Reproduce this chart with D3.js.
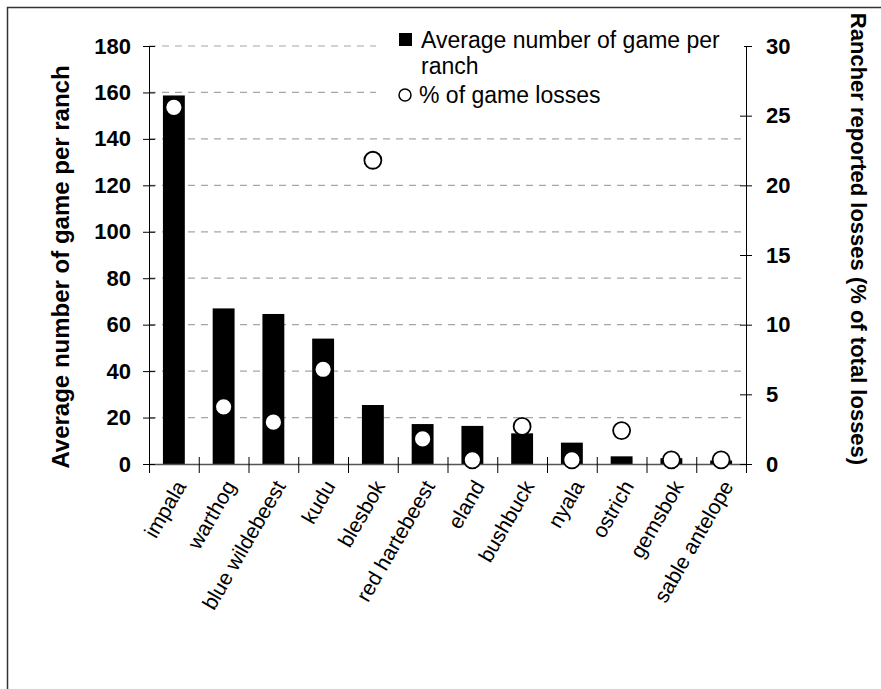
<!DOCTYPE html>
<html>
<head>
<meta charset="utf-8">
<script src="https://cdn.jsdelivr.net/npm/d3@7"></script>
<style>
  body { margin: 0; background: #fff; }
  svg { display: block; font-family: "Liberation Sans", Arial, sans-serif; }
</style>
</head>
<body>
<div id="chart"></div>
<script>
// data
var species = ["impala", "warthog", "blue wildebeest", "kudu", "blesbok", "red hartebeest",
  "eland", "bushbuck", "nyala", "ostrich", "gemsbok", "sable antelope"];
var gamePerRanch = [158.7, 67, 64.6, 54, 25.4, 17.2, 16.4, 13.2, 9.2, 3.3, 2.5, 1.5];
var lossPercent = [25.6, 4.1, 3.0, 6.8, 21.8, 1.8, 0.3, 2.7, 0.3, 2.4, 0.3, 0.3];
var leftTicks = [0, 20, 40, 60, 80, 100, 120, 140, 160, 180];
var rightTicks = [0, 5, 10, 15, 20, 25, 30];
var legendLabels = ["Average number of game per", "ranch", "% of game losses"];

var width = 881, height = 689;
var margin = { top: 46, bottom: 225, left: 149, right: 135 };

var svg = d3.select("#chart").append("svg")
  .attr("width", width)
  .attr("height", height);

// frame (only top and left edges are visible)
svg.append("path")
  .attr("d", "M7.5," + height + "V7.5H" + width)
  .attr("fill", "none")
  .attr("stroke", "#333")
  .attr("stroke-width", 1.5);

var plotW = width - margin.left - margin.right;
var plotH = height - margin.top - margin.bottom;

var g = svg.append("g").attr("transform", `translate(${margin.left},${margin.top})`);

// Scales
var x = d3.scaleBand().domain(species).range([0, plotW]).paddingInner(0.56).paddingOuter(0.28);
var xEdge = d3.scaleLinear().domain([0, species.length]).range([0, plotW]);
var yLeft = d3.scaleLinear().domain([0, 180]).range([plotH, 0]);
var yRight = d3.scaleLinear().domain([0, 30]).range([plotH, 0]);

// dashed grid
g.append("g")
  .selectAll("line")
  .data(leftTicks.filter(function (d) { return d > 0; }))
  .enter().append("line")
  .attr("x1", 0).attr("x2", plotW)
  .attr("y1", function (d) { return yLeft(d); })
  .attr("y2", function (d) { return yLeft(d); })
  .attr("stroke", "#a6a6a6")
  .attr("stroke-width", 1.2)
  .attr("stroke-dasharray", "7,6");

// Bars
g.append("g")
  .selectAll("rect")
  .data(species)
  .enter().append("rect")
  .attr("x", function (d) { return x(d); })
  .attr("y", function (d, i) { return yLeft(gamePerRanch[i]); })
  .attr("width", x.bandwidth())
  .attr("height", function (d, i) { return plotH - yLeft(gamePerRanch[i]); })
  .attr("fill", "#000");

// x axis with cross ticks at category edges
var xAxisG = g.append("g")
  .attr("transform", `translate(0,${plotH})`)
  .call(d3.axisBottom(xEdge).tickValues(d3.range(0, species.length + 1)).tickFormat("").tickSizeOuter(0));
xAxisG.select(".domain").attr("stroke", "#555").attr("stroke-width", 1.5);
xAxisG.selectAll(".tick line").attr("y1", -7).attr("y2", 9).attr("stroke", "#000");

// category labels
var labelG = g.append("g")
  .attr("transform", `translate(0,${plotH})`)
  .call(d3.axisBottom(x).tickSize(0));
labelG.attr("font-size", null).attr("font-family", null);
labelG.select(".domain").remove();
labelG.selectAll("text")
  .style("font-size", "21px")
  .style("font-family", "'Liberation Sans', Arial, sans-serif")
  .attr("fill", "#000")
  .attr("text-anchor", "end")
  .attr("dy", null)
  .attr("y", 0)
  .attr("transform", "translate(13,22) rotate(-60)");

// left axis
var leftG = g.append("g").call(d3.axisLeft(yLeft).tickValues(leftTicks).tickSizeOuter(0));
leftG.select(".domain").attr("stroke", "#000");
leftG.selectAll(".tick line").attr("x1", -6).attr("x2", 6);
leftG.selectAll(".tick text")
  .attr("x", -18)
  .style("font-size", "22px")
  .style("font-weight", "bold")
  .style("font-family", "'Liberation Sans', Arial, sans-serif")
  .attr("fill", "#000");

// right axis
var rightG = g.append("g")
  .attr("transform", `translate(${plotW},0)`)
  .call(d3.axisRight(yRight).tickValues(rightTicks).tickSizeOuter(0));
rightG.select(".domain").attr("stroke", "#000");
rightG.selectAll(".tick line").attr("x1", -6).attr("x2", 6);
rightG.selectAll(".tick text")
  .attr("x", 20)
  .style("font-size", "22px")
  .style("font-weight", "bold")
  .style("font-family", "'Liberation Sans', Arial, sans-serif")
  .attr("fill", "#000");

// loss circles
g.append("g")
  .selectAll("circle")
  .data(species)
  .enter().append("circle")
  .attr("cx", function (d) { return x(d) + x.bandwidth() / 2; })
  .attr("cy", function (d, i) { return yRight(lossPercent[i]); })
  .attr("r", 8.5)
  .attr("fill", "#fff")
  .attr("stroke", "#000")
  .attr("stroke-width", 1.8);

// axis titles
svg.append("text")
  .attr("transform", `translate(69,${margin.top + plotH / 2 + 12}) rotate(-90)`)
  .attr("text-anchor", "middle")
  .attr("font-size", 24)
  .attr("font-weight", "bold")
  .text("Average number of game per ranch");

svg.append("text")
  .attr("transform", `translate(851,${margin.top + plotH / 2 - 16}) rotate(90)`)
  .attr("text-anchor", "middle")
  .attr("font-size", 22)
  .attr("font-weight", "bold")
  .text("Rancher reported losses (% of total losses)");

// legend
var legend = svg.append("g");
legend.append("rect")
  .attr("x", 376).attr("y", 22).attr("width", 368).attr("height", 92)
  .attr("fill", "#fff");
legend.append("rect")
  .attr("x", 399).attr("y", 33).attr("width", 13).attr("height", 13)
  .attr("fill", "#000");
legend.append("circle")
  .attr("cx", 405).attr("cy", 95).attr("r", 6)
  .attr("fill", "#fff").attr("stroke", "#000").attr("stroke-width", 1.5);
legend.selectAll("text.leg")
  .data(legendLabels)
  .enter().append("text")
  .attr("class", "leg")
  .attr("x", function (d, i) { return i === 2 ? 419 : 421; })
  .attr("y", function (d, i) { return [48, 74, 103][i]; })
  .attr("font-size", 23)
  .text(function (d) { return d; });
</script>
</body>
</html>
